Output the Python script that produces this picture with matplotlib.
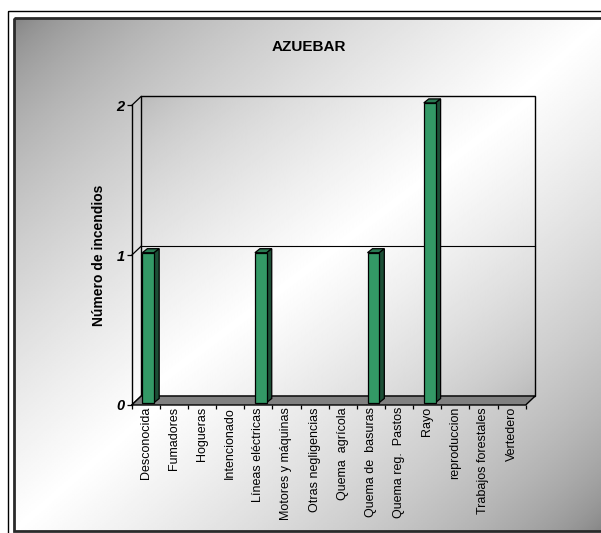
import numpy as np
import matplotlib
matplotlib.use('Agg')
import matplotlib.pyplot as plt
from matplotlib.patches import Polygon, Rectangle
from matplotlib.lines import Line2D
from matplotlib.transforms import ScaledTranslation, IdentityTransform

plt.rcParams['font.family'] = ['Liberation Sans', 'DejaVu Sans']

title = 'AZUEBAR'
ylabel = 'Número de incendios'
categories = ['Desconocida', 'Fumadores', 'Hogueras', 'Intencionado',
              'Líneas eléctricas', 'Motores y máquinas', 'Otras negligencias',
              'Quema  agrícola', 'Quema de  basuras', 'Quema reg.  Pastos',
              'Rayo', 'reproduccion', 'Trabajos forestales', 'Vertedero']
values = [1, 0, 0, 0, 1, 0, 0, 0, 1, 0, 2, 0, 0, 0]
yticks = [0, 1, 2]

W, H = 601, 533
fig = plt.figure(figsize=(W / 100, H / 100), dpi=100)

# background: chart area with diagonal grey gradient and frames
bg = fig.add_axes([0, 0, 1, 1], zorder=0)
bg.axis('off')
u, v = np.meshgrid(np.linspace(0, 1, 300), np.linspace(0, 1, 300))
s = 1 - np.abs(u + v - 1)
grad = 0.5 + 0.5 * s ** 0.6
bg.imshow(grad, cmap='gray', vmin=0, vmax=1, extent=(14, 606, 531, 18),
          aspect='auto', interpolation='bilinear')
bg.add_patch(Rectangle((8, 11), 700, 600, fill=False, ec='black', lw=1))
bg.add_patch(Rectangle((14, 18), 700, 513, fill=False, ec='#2a2a2a', lw=2))
bg.set_xlim(0, W)
bg.set_ylim(H, 0)

fig.text(309 / W, 1 - 47 / H, title, ha='center', va='center',
         fontsize=11, fontweight='bold')

# front plane of the 3-D plot
ax = fig.add_axes([131.7 / W, 1 - 405 / H, 394 / W, 299.6 / H], zorder=1)
ax.patch.set_visible(False)
n = len(categories)
ymax = max(yticks)

DX, DY = 9.5, 9.0          # wall depth in pixels
BOX, BOY = 2.5, 2.5        # bar offset from the front
BDX, BDY = 5.0, 4.0        # bar depth
BAR_W = 0.42

back = ax.transData + ScaledTranslation(DX / 100, DY / 100, fig.dpi_scale_trans)
shift = ax.transData + ScaledTranslation(BOX / 100, BOY / 100, fig.dpi_scale_trans)


def px(x, y, dx=0.0, dy=0.0):
    X, Y = ax.transData.transform((x, y))
    return (X + dx, Y + dy)


# back wall
wall = 0.72 + 0.28 * s ** 0.7
im = ax.imshow(wall, cmap='gray', vmin=0, vmax=1, extent=(0, n, 0, ymax),
               aspect='auto', interpolation='bilinear', transform=back, zorder=0)
im.set_clip_on(False)
ax.set_xlim(0, n)
ax.set_ylim(0, ymax)
ax.add_patch(Rectangle((0, 0), n, ymax, fill=False, ec='black', lw=1,
                       transform=back, clip_on=False, zorder=1))
for t in yticks[1:-1]:
    ax.add_line(Line2D([0, n], [t, t], color='black', lw=0.8,
                       transform=back, clip_on=False, zorder=1))

# left wall lines
for t in yticks:
    p0 = px(0, t)
    p1 = px(0, t, DX, DY)
    ax.add_line(Line2D([p0[0], p1[0]], [p0[1], p1[1]], color='black', lw=0.9,
                       transform=IdentityTransform(), clip_on=False, zorder=2))

# floor
floor = [px(0, 0), px(n, 0), px(n, 0, DX, DY), px(0, 0, DX, DY)]
ax.add_patch(Polygon(floor, closed=True, fc='#808080', ec='black', lw=1,
                     transform=IdentityTransform(), clip_on=False, zorder=2))

# bars
vals = np.array(values, dtype=float)
idx = np.nonzero(vals > 0)[0]
ax.bar(idx + 0.5, vals[idx], width=BAR_W, color='#339966', ec='black', lw=0.9,
       transform=shift, clip_on=False, zorder=5)
for i in idx:
    val = vals[i]
    x0 = i + 0.5 - BAR_W / 2
    x1 = x0 + BAR_W
    top = [px(x0, val, BOX, BOY), px(x1, val, BOX, BOY),
           px(x1, val, BOX + BDX, BOY + BDY), px(x0, val, BOX + BDX, BOY + BDY)]
    side = [px(x1, 0, BOX, BOY), px(x1, val, BOX, BOY),
            px(x1, val, BOX + BDX, BOY + BDY), px(x1, 0, BOX + BDX, BOY + BDY)]
    ax.add_patch(Polygon(top, closed=True, fc='#2a7a52', ec='black', lw=0.9,
                         transform=IdentityTransform(), clip_on=False, zorder=4))
    ax.add_patch(Polygon(side, closed=True, fc='#1c4f36', ec='black', lw=0.9,
                         transform=IdentityTransform(), clip_on=False, zorder=4))

# axes, ticks and labels
for sp in ['top', 'right', 'bottom']:
    ax.spines[sp].set_visible(False)
ax.spines['left'].set_linewidth(1)
ax.spines['left'].set_zorder(3)

ax.set_xticks(np.arange(n + 1))
ax.set_xticklabels([])
ax.set_xticks(np.arange(n) + 0.5, minor=True)
ax.set_xticklabels(categories, minor=True, rotation=90, fontsize=9,
                   ha='center', va='top')
ax.tick_params(axis='x', which='major', direction='out', length=3.2, width=0.9)
ax.tick_params(axis='x', which='minor', length=0, pad=1.5)

ax.set_yticks(yticks)
ax.set_yticklabels([str(t) for t in yticks], fontsize=10.5,
                   fontweight='bold', fontstyle='italic')
ax.tick_params(axis='y', direction='out', length=3.6, width=0.9, pad=1.5)

ax.set_ylabel(ylabel, fontsize=10, fontweight='bold')
ax.yaxis.set_label_coords(-0.066, 0.5)

fig.savefig('out.png', dpi=100)
plt.close(fig)
